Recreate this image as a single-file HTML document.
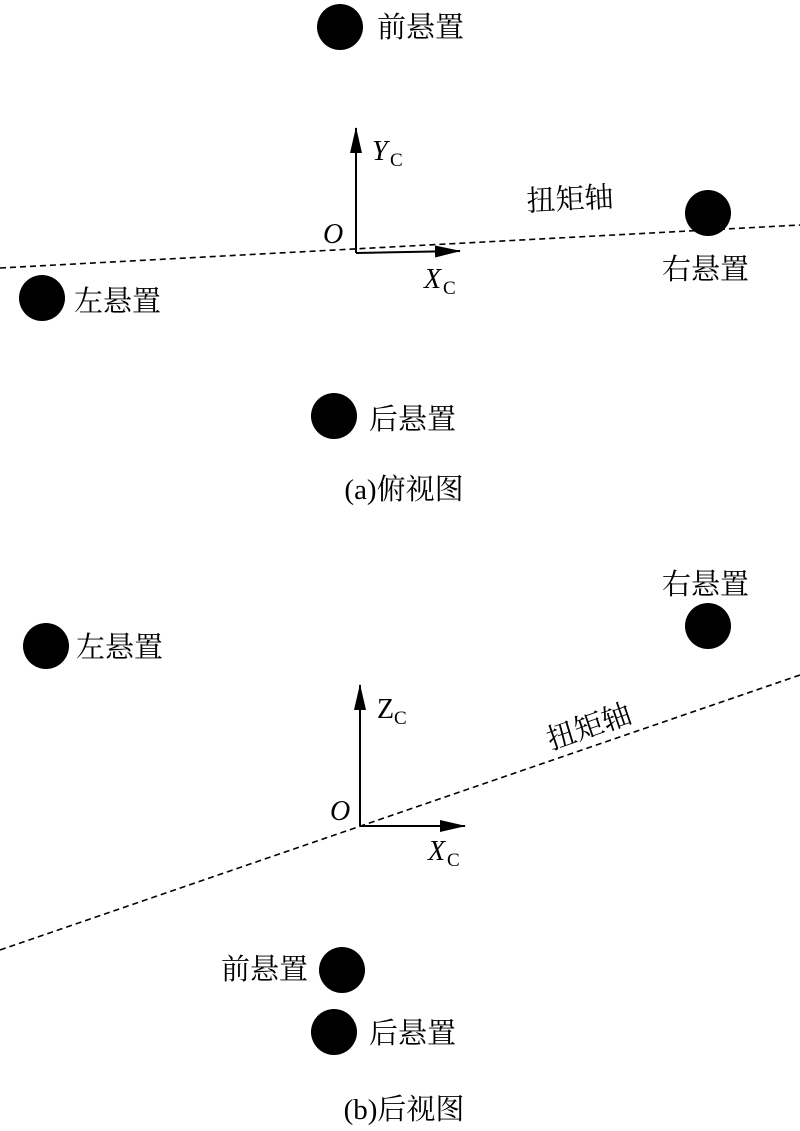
<!DOCTYPE html>
<html><head><meta charset="utf-8"><style>
body{margin:0;background:#fff}
svg{display:block}
text{font-family:"Liberation Serif","Noto Serif CJK SC",serif;fill:#000}
</style></head><body>
<svg width="800" height="1131" viewBox="0 0 800 1131" xmlns="http://www.w3.org/2000/svg">
<defs>
<marker id="b" markerWidth="26" markerHeight="12" refX="25" refY="6" orient="auto" markerUnits="userSpaceOnUse"><path d="M0,0 L26,6 L0,12Z" fill="#000"/></marker></defs>
<!-- top -->
<line x1="0" y1="268" x2="800" y2="225" stroke="#000" stroke-width="1.6" stroke-dasharray="6,4"/>
<line x1="356" y1="253" x2="356" y2="128" stroke="#000" stroke-width="2" marker-end="url(#b)"/>
<line x1="356" y1="253" x2="460" y2="251" stroke="#000" stroke-width="2" marker-end="url(#b)"/>
<text x="372" y="160" font-size="28" font-style="italic">Y</text><text x="390" y="166" font-size="19">C</text>
<text x="323" y="243" font-size="28" font-style="italic">O</text>
<text x="424" y="288" font-size="28" font-style="italic">X</text><text x="443" y="294" font-size="19">C</text>
<circle cx="340" cy="27" r="23"/><circle cx="708" cy="213" r="23"/><circle cx="42" cy="298" r="23"/><circle cx="334" cy="416" r="23"/>
<text x="377" y="37" font-size="29">前悬置</text>
<text x="662" y="279" font-size="29">右悬置</text>
<text x="74" y="311" font-size="29">左悬置</text>
<text x="369" y="429" font-size="29">后悬置</text>
<text x="527" y="211" font-size="29" transform="rotate(-3 527 211)">扭矩轴</text>
<text x="404" y="499" font-size="29" text-anchor="middle">(a)俯视图</text>
<!-- bottom -->
<line x1="0" y1="950" x2="800" y2="675" stroke="#000" stroke-width="1.6" stroke-dasharray="6,4"/>
<line x1="360" y1="826" x2="360" y2="685" stroke="#000" stroke-width="2" marker-end="url(#b)"/>
<line x1="360" y1="826" x2="465" y2="826" stroke="#000" stroke-width="2" marker-end="url(#b)"/>
<text x="377" y="718" font-size="28">Z</text><text x="394" y="724" font-size="19">C</text>
<text x="330" y="820" font-size="28" font-style="italic">O</text>
<text x="428" y="860" font-size="28" font-style="italic">X</text><text x="447" y="866" font-size="19">C</text>
<circle cx="708" cy="626" r="23"/><circle cx="46" cy="646" r="23"/><circle cx="342" cy="970" r="23"/><circle cx="334" cy="1032" r="23"/>
<text x="662" y="594" font-size="29">右悬置</text>
<text x="76" y="657" font-size="29">左悬置</text>
<text x="221" y="979" font-size="29">前悬置</text>
<text x="369" y="1043" font-size="29">后悬置</text>
<text x="551" y="750" font-size="29" transform="rotate(-19 551 750)">扭矩轴</text>
<text x="404" y="1119" font-size="29" text-anchor="middle">(b)后视图</text>
</svg>
</body></html>
